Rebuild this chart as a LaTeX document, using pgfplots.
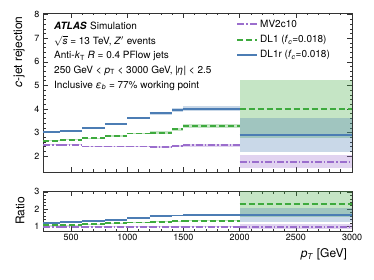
\documentclass[border=0pt]{standalone}
\usepackage{fontspec}
\setmainfont{TeX Gyre Heros}
\usepackage{pgfplots}
\pgfplotsset{compat=1.18}
\definecolor{cblue}{RGB}{76,125,180}
\definecolor{cgreen}{RGB}{62,170,62}
\definecolor{cpurple}{RGB}{155,110,205}
\newcommand{\band}[5]{\addplot[fill=#1, fill opacity=0.3, draw=none, forget plot] coordinates {(#2,#4) (#3,#4) (#3,#5) (#2,#5)} -- cycle;}
\pgfplotsset{
  atl/.style={
    scale only axis, width=309pt,
    xmin=250, xmax=3000,
    xtick={500,1000,1500,2000,2500,3000},
    minor x tick num=4,
    tick align=inside,
    major tick length=5pt, minor tick length=2.5pt,
    every tick/.style={black!80, line width=0.6pt},
    axis line style={black!80, line width=0.9pt},
    tick label style={font=\fontsize{9}{10}\selectfont},
    /pgf/number format/assume math mode=true,
    /pgf/number format/1000 sep={},
    unbounded coords=jump,
    label style={font=\fontsize{12}{14}\selectfont},
  },
  bluel/.style={draw=cblue, line width=1.9pt},
  greenl/.style={draw=cgreen, line width=1.9pt, dash pattern=on 6pt off 3pt},
  purplel/.style={draw=cpurple, line width=1.9pt, dash pattern=on 7pt off 2pt on 1.5pt off 2pt},
}
\begin{document}
\begin{tikzpicture}
\useasboundingbox (0,0) rectangle (374pt,-280pt);
% ---------------- main panel
\begin{axis}[atl,
  at={(43pt,-172pt)}, anchor=south west, height=159pt,
  ymin=1.33, ymax=8.07,
  ytick={2,3,4,5,6,7,8}, minor y tick num=4,
  xticklabels={},
  ylabel={\textit{c}-jet rejection},
  ylabel style={at={(axis description cs:-0.048,1)}, anchor=south east},
  legend style={draw=none, fill=none, font=\fontsize{10}{12}\selectfont,
    at={(axis description cs:0.625,0.97)}, anchor=north west,
    inner sep=0pt, row sep=2.5pt, cells={anchor=west}},
  legend image code/.code={\draw[#1] (0pt,0pt) -- (20pt,0pt);},
]
% bands DL1
\band{cgreen}{250}{400}{2.64}{2.68}
\band{cgreen}{400}{600}{2.68}{2.72}
\band{cgreen}{600}{800}{2.73}{2.79}
\band{cgreen}{800}{1000}{2.82}{2.88}
\band{cgreen}{1000}{1200}{2.92}{3.00}
\band{cgreen}{1200}{1400}{2.95}{3.05}
\band{cgreen}{1400}{1500}{3.07}{3.21}
\band{cgreen}{1500}{2000}{3.19}{3.35}
\band{cgreen}{2000}{3000}{2.77}{5.21}
% bands DL1r
\band{cblue}{250}{400}{3.00}{3.06}
\band{cblue}{400}{600}{3.04}{3.10}
\band{cblue}{600}{800}{3.18}{3.24}
\band{cblue}{800}{1000}{3.32}{3.40}
\band{cblue}{1000}{1200}{3.56}{3.66}
\band{cblue}{1200}{1400}{3.76}{3.88}
\band{cblue}{1400}{1500}{3.88}{4.04}
\band{cblue}{1500}{2000}{3.90}{4.12}
\band{cblue}{2000}{3000}{2.19}{3.61}
% bands MV2c10
\band{cpurple}{250}{400}{2.46}{2.50}
\band{cpurple}{400}{600}{2.46}{2.50}
\band{cpurple}{600}{800}{2.39}{2.43}
\band{cpurple}{800}{1000}{2.38}{2.44}
\band{cpurple}{1000}{1200}{2.38}{2.44}
\band{cpurple}{1200}{1400}{2.34}{2.42}
\band{cpurple}{1400}{1500}{2.38}{2.48}
\band{cpurple}{1500}{2000}{2.40}{2.52}
\band{cpurple}{2000}{3000}{1.49}{2.05}
% lines
\addplot[purplel] coordinates {(250,2.48)(400,2.48)(400,nan)(400,2.48)(600,2.48)(600,nan)(600,2.41)(800,2.41)(800,nan)(800,2.41)(1000,2.41)(1000,nan)(1000,2.41)(1200,2.41)(1200,nan)(1200,2.38)(1400,2.38)(1400,nan)(1400,2.43)(1500,2.43)(1500,nan)(1500,2.46)(2000,2.46)(2000,nan)(2000,1.77)(3000,1.77)};
\addlegendentry{MV2c10}
\addplot[greenl] coordinates {(250,2.66)(400,2.66)(400,nan)(400,2.70)(600,2.70)(600,nan)(600,2.76)(800,2.76)(800,nan)(800,2.85)(1000,2.85)(1000,nan)(1000,2.96)(1200,2.96)(1200,nan)(1200,3.00)(1400,3.00)(1400,nan)(1400,3.14)(1500,3.14)(1500,nan)(1500,3.27)(2000,3.27)(2000,nan)(2000,3.99)(3000,3.99)};
\addlegendentry{DL1 (\textit{f}\textsubscript{\textit{c}}=0.018)}
\addplot[bluel] coordinates {(250,3.03)(400,3.03)(400,nan)(400,3.07)(600,3.07)(600,nan)(600,3.21)(800,3.21)(800,nan)(800,3.36)(1000,3.36)(1000,nan)(1000,3.61)(1200,3.61)(1200,nan)(1200,3.82)(1400,3.82)(1400,nan)(1400,3.96)(1500,3.96)(1500,nan)(1500,4.01)(2000,4.01)(2000,nan)(2000,2.90)(3000,2.90)};
\addlegendentry{DL1r (\textit{f}\textsubscript{\textit{c}}=0.018)}
\end{axis}
% ---------------- ratio panel
\begin{axis}[atl,
  at={(43pt,-231pt)}, anchor=south west, height=40pt,
  ymin=0.75, ymax=3.05,
  ytick={1,2,3}, minor y tick num=4,
  ylabel={Ratio},
  ylabel style={at={(axis description cs:-0.048,0.5)}, anchor=south},
  xlabel={\textit{p}\textsubscript{\textit{T}} [GeV]},
  xlabel style={at={(axis description cs:0.995,-0.36)}, anchor=north east},
]
\band{cgreen}{250}{400}{1.06}{1.10}
\band{cgreen}{400}{600}{1.08}{1.12}
\band{cgreen}{600}{800}{1.13}{1.17}
\band{cgreen}{800}{1000}{1.17}{1.21}
\band{cgreen}{1000}{1200}{1.21}{1.27}
\band{cgreen}{1200}{1400}{1.24}{1.30}
\band{cgreen}{1400}{1500}{1.26}{1.34}
\band{cgreen}{1500}{2000}{1.30}{1.38}
\band{cgreen}{2000}{3000}{1.55}{3.05}
\band{cblue}{250}{400}{1.21}{1.25}
\band{cblue}{400}{600}{1.23}{1.27}
\band{cblue}{600}{800}{1.32}{1.36}
\band{cblue}{800}{1000}{1.38}{1.42}
\band{cblue}{1000}{1200}{1.48}{1.54}
\band{cblue}{1200}{1400}{1.59}{1.65}
\band{cblue}{1400}{1500}{1.60}{1.68}
\band{cblue}{1500}{2000}{1.61}{1.69}
\band{cblue}{2000}{3000}{1.24}{2.08}
\band{cpurple}{250}{400}{0.98}{1.02}
\band{cpurple}{400}{600}{0.98}{1.02}
\band{cpurple}{600}{800}{0.98}{1.02}
\band{cpurple}{800}{1000}{0.98}{1.02}
\band{cpurple}{1000}{1200}{0.98}{1.02}
\band{cpurple}{1200}{1400}{0.97}{1.03}
\band{cpurple}{1400}{1500}{0.97}{1.03}
\band{cpurple}{1500}{2000}{0.96}{1.04}
\band{cpurple}{2000}{3000}{0.84}{1.16}
\addplot[purplel] coordinates {(250,1)(400,1)(400,nan)(400,1)(600,1)(600,nan)(600,1)(800,1)(800,nan)(800,1)(1000,1)(1000,nan)(1000,1)(1200,1)(1200,nan)(1200,1)(1400,1)(1400,nan)(1400,1)(1500,1)(1500,nan)(1500,1)(2000,1)(2000,nan)(2000,1)(3000,1)};
\addplot[greenl] coordinates {(250,1.08)(400,1.08)(400,nan)(400,1.10)(600,1.10)(600,nan)(600,1.15)(800,1.15)(800,nan)(800,1.19)(1000,1.19)(1000,nan)(1000,1.24)(1200,1.24)(1200,nan)(1200,1.27)(1400,1.27)(1400,nan)(1400,1.30)(1500,1.30)(1500,nan)(1500,1.34)(2000,1.34)(2000,nan)(2000,2.30)(3000,2.30)};
\addplot[bluel] coordinates {(250,1.23)(400,1.23)(400,nan)(400,1.25)(600,1.25)(600,nan)(600,1.34)(800,1.34)(800,nan)(800,1.40)(1000,1.40)(1000,nan)(1000,1.51)(1200,1.51)(1200,nan)(1200,1.62)(1400,1.62)(1400,nan)(1400,1.64)(1500,1.64)(1500,nan)(1500,1.65)(2000,1.65)(2000,nan)(2000,1.66)(3000,1.66)};
\end{axis}
% ---------------- text block
\begin{scope}[every node/.style={anchor=base west, inner sep=0pt, font=\fontsize{10}{12}\selectfont}]
\node at (54pt,-29.3pt) {\textbf{\textit{ATLAS\/}}\hspace{0.6pt} Simulation};
\node at (54pt,-44.3pt) {$\sqrt{\textit{s}}$ = 13 TeV, \textit{Z}$'$ events};
\node at (54pt,-58.6pt) {Anti-\textit{k}\textsubscript{T} \textit{R} = 0.4 PFlow jets};
\node at (54pt,-73.3pt) {250 GeV < \textit{p}\textsubscript{T} < 3000 GeV, |\textit{η}| < 2.5};
\node at (54pt,-88.3pt) {Inclusive \textit{ε}\textsubscript{\textit{b}} = 77\% working point};
\end{scope}
\end{tikzpicture}
\end{document}
